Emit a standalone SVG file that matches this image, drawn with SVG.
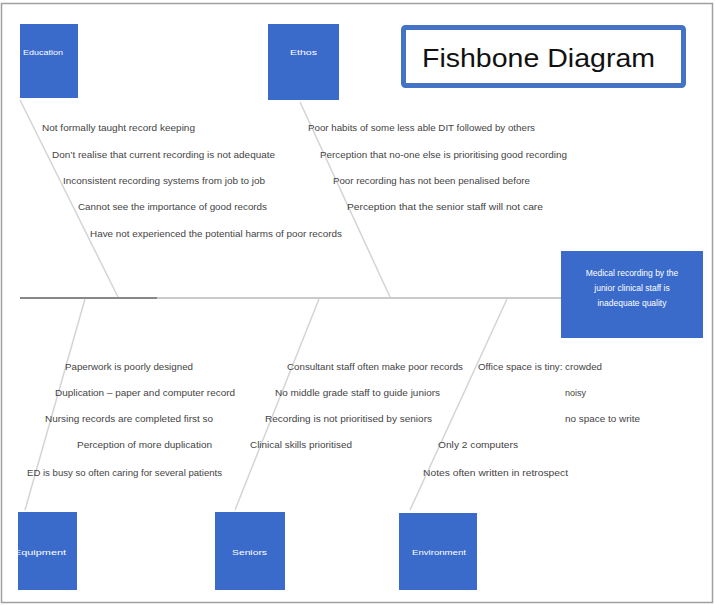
<svg xmlns="http://www.w3.org/2000/svg" width="715" height="605" viewBox="0 0 715 605">
<style>
.box{fill:#3A6BCB;}
.lbl{font-family:"Liberation Sans",Arial,sans-serif;font-size:8px;fill:#ffffff;}
.head{font-family:"Liberation Sans",Arial,sans-serif;font-size:8.5px;fill:#ffffff;text-anchor:middle;}
.c{font-family:"Liberation Sans",Arial,sans-serif;font-size:9px;fill:#444444;}
.bone{stroke:#d4d4d4;stroke-width:1.5;fill:none;}
</style>
<rect x="1.5" y="3.5" width="711" height="599" fill="#ffffff" stroke="#a0a0a0" stroke-width="1.5"/>
<g id="connectors">
<line x1="20" y1="298" x2="157" y2="298" stroke="#888888" stroke-width="2"/>
<line x1="157" y1="298" x2="561" y2="298" stroke="#b8b8b8" stroke-width="1.5"/>
<line class="bone" x1="20" y1="100" x2="118" y2="297"/>
<line class="bone" x1="300" y1="102" x2="390" y2="297"/>
<line class="bone" x1="85" y1="299" x2="25" y2="510"/>
<line class="bone" x1="319" y1="299" x2="235" y2="510"/>
<line class="bone" x1="507" y1="299" x2="410" y2="510"/>
</g>
<g id="title">
<rect x="403.5" y="27.5" width="280" height="58" fill="#ffffff" stroke="#4472C4" stroke-width="5" rx="2"/>
<text x="422" y="67" font-family="Liberation Sans,Arial,sans-serif" font-size="26" fill="#111111" textLength="233" lengthAdjust="spacingAndGlyphs">Fishbone Diagram</text>
</g>
<g id="education">
<rect class="box" x="20" y="24" width="58" height="74"/>
<text class="lbl" x="23" y="55" textLength="40" lengthAdjust="spacingAndGlyphs">Education</text>
</g>
<g id="ethos">
<rect class="box" x="268" y="24" width="71" height="76"/>
<text class="lbl" x="290" y="55" textLength="27" lengthAdjust="spacingAndGlyphs">Ethos</text>
</g>
<g id="effect">
<rect class="box" x="561" y="251" width="142" height="87"/>
<text class="head" x="632" y="276">Medical recording by the</text>
<text class="head" x="632" y="291">junior clinical staff is</text>
<text class="head" x="632" y="306">inadequate quality</text>
</g>
<g id="equipment">
<rect class="box" x="18" y="512" width="59" height="78"/>
<text class="lbl" x="14" y="555" textLength="52" lengthAdjust="spacingAndGlyphs">Equipment</text>
</g>
<g id="seniors">
<rect class="box" x="215" y="512" width="70" height="78"/>
<text class="lbl" x="232" y="555" textLength="35" lengthAdjust="spacingAndGlyphs">Seniors</text>
</g>
<g id="environment">
<rect class="box" x="399" y="513" width="78" height="77"/>
<text class="lbl" x="412" y="555" textLength="54" lengthAdjust="spacingAndGlyphs">Environment</text>
</g>
<g id="causes-education">
<text class="c" x="42" y="131" textLength="153" lengthAdjust="spacingAndGlyphs">Not formally taught record keeping</text>
<text class="c" x="52" y="158" textLength="223" lengthAdjust="spacingAndGlyphs">Don’t realise that current recording is not adequate</text>
<text class="c" x="63" y="184" textLength="202" lengthAdjust="spacingAndGlyphs">Inconsistent recording systems from job to job</text>
<text class="c" x="78" y="210" textLength="189" lengthAdjust="spacingAndGlyphs">Cannot see the importance of good records</text>
<text class="c" x="90" y="237" textLength="252" lengthAdjust="spacingAndGlyphs">Have not experienced the potential harms of poor records</text>
</g>
<g id="causes-ethos">
<text class="c" x="308" y="131" textLength="227" lengthAdjust="spacingAndGlyphs">Poor habits of some less able DIT followed by others</text>
<text class="c" x="320" y="158" textLength="247" lengthAdjust="spacingAndGlyphs">Perception that no-one else is prioritising good recording</text>
<text class="c" x="333" y="184" textLength="197" lengthAdjust="spacingAndGlyphs">Poor recording has not been penalised before</text>
<text class="c" x="347" y="210" textLength="196" lengthAdjust="spacingAndGlyphs">Perception that the senior staff will not care</text>
</g>
<g id="causes-equipment">
<text class="c" x="65" y="370" textLength="128" lengthAdjust="spacingAndGlyphs">Paperwork is poorly designed</text>
<text class="c" x="55" y="396" textLength="180" lengthAdjust="spacingAndGlyphs">Duplication – paper and computer record</text>
<text class="c" x="45" y="422" textLength="168" lengthAdjust="spacingAndGlyphs">Nursing records are completed first so</text>
<text class="c" x="77" y="448" textLength="135" lengthAdjust="spacingAndGlyphs">Perception of more duplication</text>
<text class="c" x="27" y="476" textLength="195" lengthAdjust="spacingAndGlyphs">ED is busy so often caring for several patients</text>
</g>
<g id="causes-seniors">
<text class="c" x="287" y="370" textLength="176" lengthAdjust="spacingAndGlyphs">Consultant staff often make poor records</text>
<text class="c" x="275" y="396" textLength="165" lengthAdjust="spacingAndGlyphs">No middle grade staff to guide juniors</text>
<text class="c" x="265" y="422" textLength="167" lengthAdjust="spacingAndGlyphs">Recording is not prioritised by seniors</text>
<text class="c" x="250" y="448" textLength="102" lengthAdjust="spacingAndGlyphs">Clinical skills prioritised</text>
</g>
<g id="causes-environment">
<text class="c" x="478" y="370" textLength="124" lengthAdjust="spacingAndGlyphs">Office space is tiny: crowded</text>
<text class="c" x="565" y="396">noisy</text>
<text class="c" x="565" y="422" textLength="75" lengthAdjust="spacingAndGlyphs">no space to write</text>
<text class="c" x="438" y="448" textLength="80" lengthAdjust="spacingAndGlyphs">Only 2 computers</text>
<text class="c" x="423" y="476" textLength="145" lengthAdjust="spacingAndGlyphs">Notes often written in retrospect</text>
</g>
</svg>
